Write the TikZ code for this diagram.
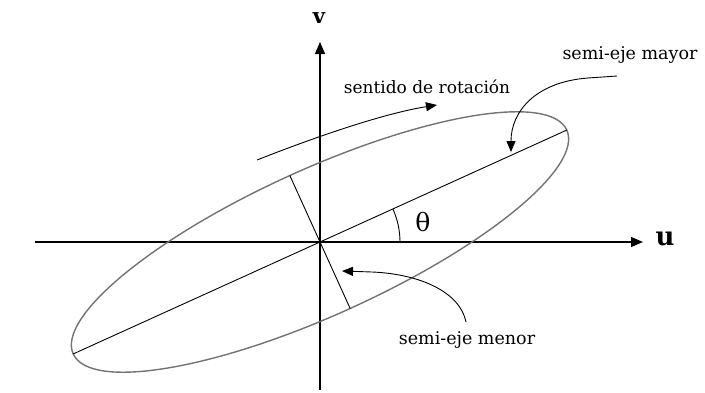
\documentclass[tikz,border=0pt]{standalone}
\usepackage{fontspec}
\setmainfont{DejaVu Serif}
\usetikzlibrary{arrows.meta}
\begin{document}
\begin{tikzpicture}[x=1pt,y=1pt,
  axis/.style={line width=1.1pt,-{Triangle[length=12pt,width=10pt]}},
  ell/.style={draw=black!55,line width=1.4pt},
  thin/.style={line width=0.9pt},
  pointer/.style={line width=0.9pt,-{Triangle[length=11pt,width=9pt]}},
  lbl/.style={font=\fontsize{17.5}{19}\selectfont,inner sep=0pt},
  axlbl/.style={font=\fontsize{26}{28}\selectfont\bfseries,inner sep=0pt}]
\useasboundingbox (-320,-150) rectangle (385,242);
\coordinate (O) at (0,0);
% axes
\coordinate (ustart) at (-285,0);
\coordinate (uend) at (323,0);
\coordinate (vstart) at (0,-148);
\coordinate (vend) at (0,200);
\draw[axis] (ustart) -- (uend);
\draw[axis] (vstart) -- (vend);
\node[axlbl] (ulab) at (345,3) {u};
\node[axlbl,font=\fontsize{21}{23}\selectfont\bfseries] (vlab) at (-1,224) {v};
% ellipse and axes of ellipse
\begin{scope}[rotate=24.4]
  \draw[ell] (O) ellipse [x radius=271, y radius=73];
  \coordinate (majL) at (-271,0);
  \coordinate (majR) at (271,0);
  \coordinate (minU) at (0,73);
  \coordinate (minD) at (0,-73);
\end{scope}
\draw[thin] (majL) -- (majR);
\draw[thin] (minU) -- (minD);
% angle
\draw[thin] (80,0) arc [start angle=0,end angle=24.4,radius=80];
\node[font=\fontsize{25}{27}\selectfont,inner sep=0pt] (theta) at (103,20) {θ};
% rotation sense
\coordinate (rotS) at (-63,82);
\coordinate (rotE) at (117,137);
\draw[pointer] (rotS) .. controls (-15,101) and (60,128) .. (rotE);
\node[lbl,font=\fontsize{17}{19}\selectfont] (rottxt) at (107,155) {sentido de rotación};
% semi-eje mayor
\node[lbl] (maytxt) at (310,187) {semi-eje mayor};
\coordinate (mayS) at (297,166);
\coordinate (mayK) at (268,164);
\coordinate (mayE) at (191,90);
\draw[pointer] (mayS) -- (mayK) .. controls (215,160) and (191,130) .. (mayE);
% semi-eje menor
\node[lbl] (mentxt) at (147,-98) {semi-eje menor};
\coordinate (menS) at (146,-80);
\coordinate (menK) at (52,-30);
\coordinate (menE) at (22,-29);
\draw[pointer] (menS) .. controls (140,-50) and (100,-32) .. (menK) -- (menE);
\end{tikzpicture}
\end{document}
